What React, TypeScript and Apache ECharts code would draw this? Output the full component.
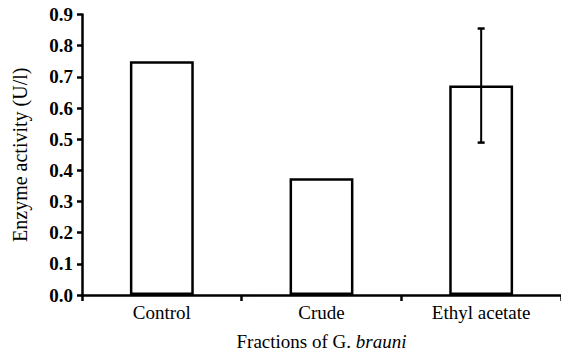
import React, { useEffect, useRef } from "react";
import * as echarts from "echarts";

const categories = ["Control", "Crude", "Ethyl acetate"];
const values = [0.75, 0.375, 0.672];
const errors = [0, 0, 0.183];
const yTicks = { min: 0, max: 0.9, interval: 0.1 };

const FONT = "Times New Roman, Liberation Serif, DejaVu Serif, serif";

export default function App() {
  const ref = useRef<HTMLDivElement>(null);
  useEffect(() => {
    if (!ref.current) return;
    const chart = echarts.init(ref.current, null, { renderer: "svg" });
    const errData = values.map((v, i) => [i, v - errors[i], v + errors[i]]);
    chart.setOption({
      animation: false,
      backgroundColor: "#ffffff",
      textStyle: { fontFamily: FONT },
      grid: { left: 82, right: -2, top: 14.5, bottom: 60, containLabel: false },
      xAxis: {
        type: "category",
        data: categories,
        name: "{a|Fractions of G. }{b|brauni}",
        nameLocation: "middle",
        nameGap: 37,
        nameTextStyle: {
          fontFamily: FONT,
          rich: {
            a: { fontFamily: FONT, fontSize: 19, color: "#000" },
            b: { fontFamily: FONT, fontSize: 19, fontStyle: "italic", color: "#000" },
          },
        },
        axisLine: { lineStyle: { color: "#000", width: 2.5 } },
        axisTick: { show: true, length: 6, lineStyle: { color: "#000", width: 2.5 } },
        axisLabel: { color: "#000", fontFamily: FONT, fontSize: 19, margin: 8 },
      },
      yAxis: {
        type: "value",
        min: yTicks.min,
        max: yTicks.max,
        interval: yTicks.interval,
        name: "Enzyme activity (U/l)",
        nameLocation: "middle",
        nameGap: 52,
        nameTextStyle: { fontFamily: FONT, fontSize: 20, color: "#000" },
        splitLine: { show: false },
        axisLine: { show: true, lineStyle: { color: "#000", width: 2.5 } },
        axisTick: { show: true, length: 5, lineStyle: { color: "#000", width: 2.5 } },
        axisLabel: {
          color: "#000",
          fontFamily: FONT,
          fontSize: 19,
          fontWeight: "bold",
          margin: 9,
          formatter: (v: number) => v.toFixed(1),
        },
      },
      series: [
        {
          type: "bar",
          data: values,
          barWidth: "40%",
          itemStyle: { color: "#fff", borderColor: "#000", borderWidth: 2.5 },
        },
        {
          type: "custom",
          data: errData.filter((d, i) => errors[i] > 0),
          z: 5,
          renderItem: (params: any, api: any) => {
            const x = api.value(0);
            const lo = api.coord([x, api.value(1)]);
            const hi = api.coord([x, api.value(2)]);
            const cw = 3.5;
            const style = { stroke: "#000", lineWidth: 2 };
            return {
              type: "group",
              children: [
                { type: "line", shape: { x1: lo[0], y1: lo[1], x2: hi[0], y2: hi[1] }, style },
                { type: "line", shape: { x1: hi[0] - cw, y1: hi[1], x2: hi[0] + cw, y2: hi[1] }, style: { stroke: "#000", lineWidth: 2.5 } },
                { type: "line", shape: { x1: lo[0] - cw, y1: lo[1], x2: lo[0] + cw, y2: lo[1] }, style: { stroke: "#000", lineWidth: 2.5 } },
              ],
            };
          },
        },
      ],
    });
    return () => chart.dispose();
  }, []);
  return (
    <div
      ref={ref}
      style={{ position: "absolute", left: 0, top: 0, width: 561, height: 356 }}
    />
  );
}
